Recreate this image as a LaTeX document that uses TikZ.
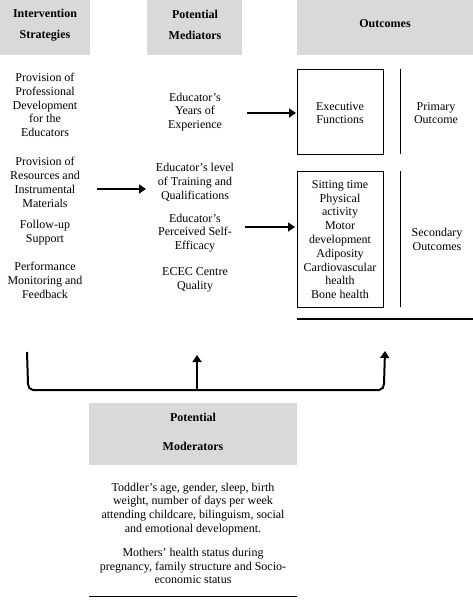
\documentclass[tikz,border=0pt]{standalone}
\usepackage{fontspec}
\setmainfont{Liberation Serif}
\usetikzlibrary{arrows.meta}
\definecolor{hdrgray}{HTML}{D9D9D9}
\tikzset{
  txt/.style={align=center, inner sep=0pt, font=\fontsize{12}{13.8}\selectfont},
  hdr/.style={fill=hdrgray, draw=none},
  hdrtxt/.style={align=center, inner sep=0pt, font=\fontsize{12}{21}\selectfont\bfseries},
  bigarrow/.style={line width=2pt, -{Triangle[length=7pt,width=9pt]}},
  outbox/.style={draw, line width=0.8pt},
  sep/.style={line width=0.8pt},
}
\begin{document}
\begin{tikzpicture}[x=1pt,y=-1pt]
\useasboundingbox (0,0) rectangle (473,607);
\fill[white] (0,0) rectangle (473,607);
% headers
\fill[hdr] (0,0) rectangle (90,55);
\fill[hdr] (147,0) rectangle (242,55);
\fill[hdr] (297,0) rectangle (473,55);
\node[hdrtxt] (h1) at (45,25) {Intervention\\Strategies};
\node[hdrtxt] (h2) at (195,25) {Potential\\Mediators};
\node[hdrtxt] (h3) at (385,24) {Outcomes};
% column 1
\node[txt] (s1) at (45,105) {Provision of\\Professional\\Development\\for the\\Educators};
\node[txt] (s2) at (45,182.5) {Provision of\\Resources and\\Instrumental\\Materials};
\node[txt] (s3) at (45,233) {Follow-up\\Support};
\node[txt] (s4) at (45,280.5) {Performance\\Monitoring and\\Feedback};
% column 2
\node[txt] (m1) at (195,112) {Educator’s\\Years of\\Experience};
\node[txt] (m2) at (195,182.5) {Educator’s level\\of Training and\\Qualifications};
\node[txt] (m3) at (195,233) {Educator’s\\Perceived Self-\\Efficacy};
\node[txt] (m4) at (195,280) {ECEC Centre\\Quality};
% outcomes
\draw[outbox] (297,69) rectangle (383,154);
\node[txt] (o1) at (340,113) {Executive\\Functions};
\draw[sep] (400,69) -- (400,154);
\node[txt] (p1) at (436,113) {Primary\\Outcome};
\draw[outbox] (297,171) rectangle (383,307);
\node[txt] (o2) at (340,239.5) {Sitting time\\Physical\\activity\\Motor\\development\\Adiposity\\Cardiovascular\\health\\Bone health};
\draw[sep] (400,171) -- (400,307);
\node[txt] (p2) at (437,239) {Secondary\\Outcomes};
\draw[line width=2.2pt] (297,319) -- (473,319);
% arrows
\coordinate (a1s) at (247,113);
\coordinate (a1e) at (296,113);
\draw[bigarrow] (a1s) -- (a1e);
\coordinate (a2s) at (97,189);
\coordinate (a2e) at (146,189);
\draw[bigarrow] (a2s) -- (a2e);
\coordinate (a3s) at (245,227);
\coordinate (a3e) at (295,227);
\draw[bigarrow] (a3s) -- (a3e);
% bracket
\coordinate (bl) at (27,352);
\coordinate (br) at (385,351);
\coordinate (bm) at (197,390);
\coordinate (bmt) at (197,355);
\draw[bigarrow] (bl) -- (28,384) to[out=270,in=180] (33,390) -- (379,390) to[out=0,in=270] (384,384) -- (br);
\draw[bigarrow] (bm) -- (bmt);
% moderators
\fill[hdr] (89,403) rectangle (297,465);
\node[hdrtxt, font=\fontsize{12}{29}\selectfont\bfseries] (h4) at (193,431.5) {Potential\\Moderators};
\node[txt] (mo1) at (193,509) {Toddler’s age, gender, sleep, birth\\weight, number of days per week\\attending childcare, bilinguism, social\\and emotional development.};
\node[txt] (mo2) at (193,566) {Mothers’ health status during\\pregnancy, family structure and Socio-\\economic status};
\draw[line width=1pt] (89,596) -- (297,596);
\end{tikzpicture}
\end{document}
